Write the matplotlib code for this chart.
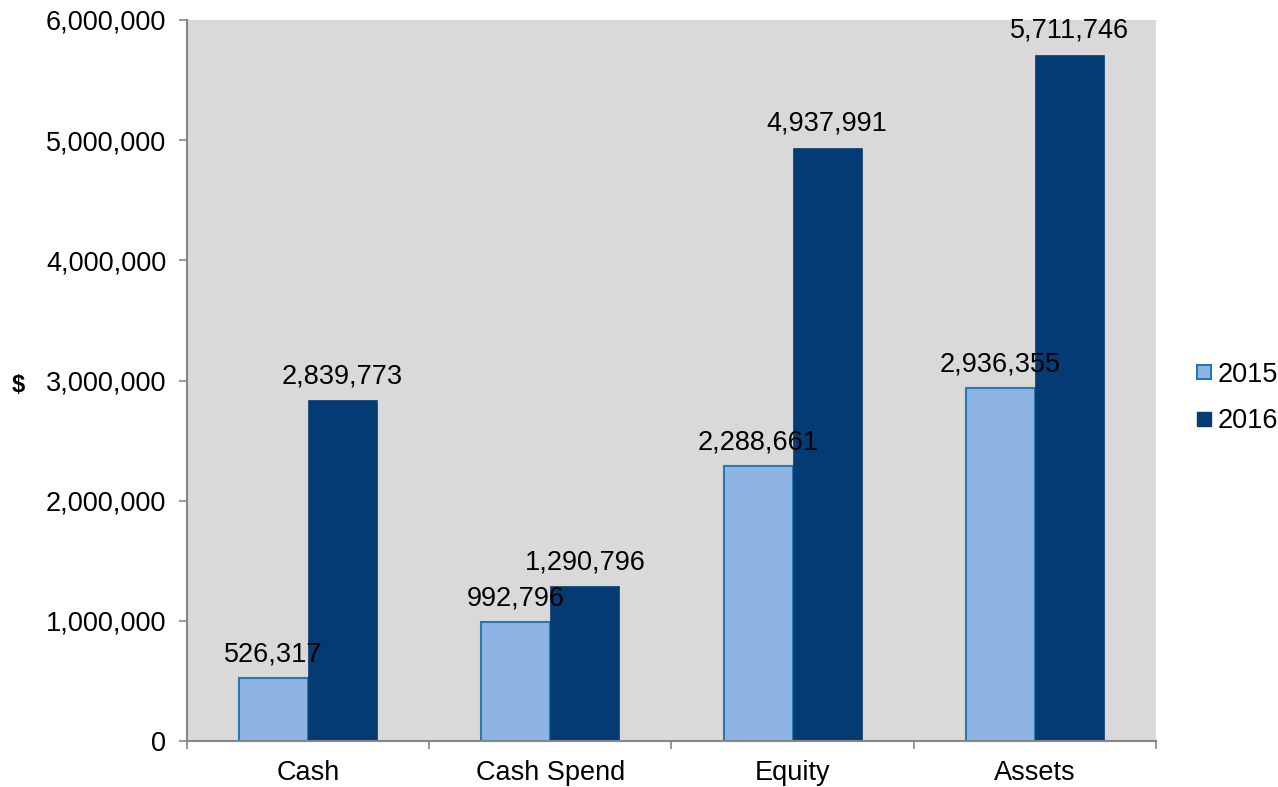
import numpy as np
import matplotlib
matplotlib.use('Agg')
import matplotlib.pyplot as plt
from matplotlib.ticker import FuncFormatter
from matplotlib.lines import Line2D

plt.rcParams['font.family'] = ['Liberation Sans', 'DejaVu Sans']

categories = ['Cash', 'Cash Spend', 'Equity', 'Assets']
values_2015 = [526317, 992796, 2288661, 2936355]
values_2016 = [2839773, 1290796, 4937991, 5711746]
series_names = ['2015', '2016']

c2015 = '#8eb4e3'
c2015_edge = '#2a78b0'
c2016 = '#053b73'
axis_gray = '#868686'
fs = 19.5

fig = plt.figure(figsize=(12.78, 7.87), dpi=100)
ax = fig.add_axes([0.1463, 0.0584, 0.9045 - 0.1463, 0.9746 - 0.0584])
ax.set_facecolor('#d9d9d9')

x = np.arange(len(categories))
w = 0.285
b1 = ax.bar(x - w / 2, values_2015, w, color=c2015, edgecolor=c2015_edge, linewidth=1.5, zorder=2)
b2 = ax.bar(x + w / 2, values_2016, w, color=c2016, edgecolor=c2016, linewidth=0.5, zorder=2)

for bars in (b1, b2):
    for r in bars:
        v = r.get_height()
        ax.annotate(f'{v:,.0f}', (r.get_x() + r.get_width() / 2, v),
                    xytext=(0, 12), textcoords='offset points',
                    ha='center', va='baseline', fontsize=fs, zorder=3)

ax.set_xlim(-0.5, len(categories) - 0.5)
ax.set_ylim(0, 6000000)
ax.set_yticks(np.arange(0, 6000001, 1000000))
ax.yaxis.set_major_formatter(FuncFormatter(lambda v, p: f'{v:,.0f}'))
ax.set_xticks(x)
ax.set_xticklabels(categories)
ax.set_xticks(np.arange(-0.5, len(categories), 1), minor=True)
ax.tick_params(axis='x', which='major', length=0, labelsize=fs, pad=14)
ax.tick_params(axis='x', which='minor', length=6, color=axis_gray, width=1.2)
ax.tick_params(axis='y', length=6, color=axis_gray, width=1.2, labelsize=fs, pad=9)

for s in ['top', 'right']:
    ax.spines[s].set_visible(False)
for s in ['left', 'bottom']:
    ax.spines[s].set_color(axis_gray)
    ax.spines[s].set_linewidth(1.5)

fig.text(18 / 1278, 1 - 385 / 787, '$', fontsize=17, fontweight='bold', ha='center', va='center')

handles = [
    Line2D([], [], marker='s', linestyle='none', markersize=10,
           markerfacecolor=c2015, markeredgecolor=c2015_edge, markeredgewidth=1.5),
    Line2D([], [], marker='s', linestyle='none', markersize=10,
           markerfacecolor=c2016, markeredgecolor=c2016),
]
fig.legend(handles, series_names, loc='center left', bbox_to_anchor=(1193 / 1278, 1 - 398 / 787),
           frameon=False, fontsize=fs, handletextpad=0.1, labelspacing=0.75, handlelength=0.8,
           borderpad=0, borderaxespad=0)

fig.savefig('out.png', dpi=100)
